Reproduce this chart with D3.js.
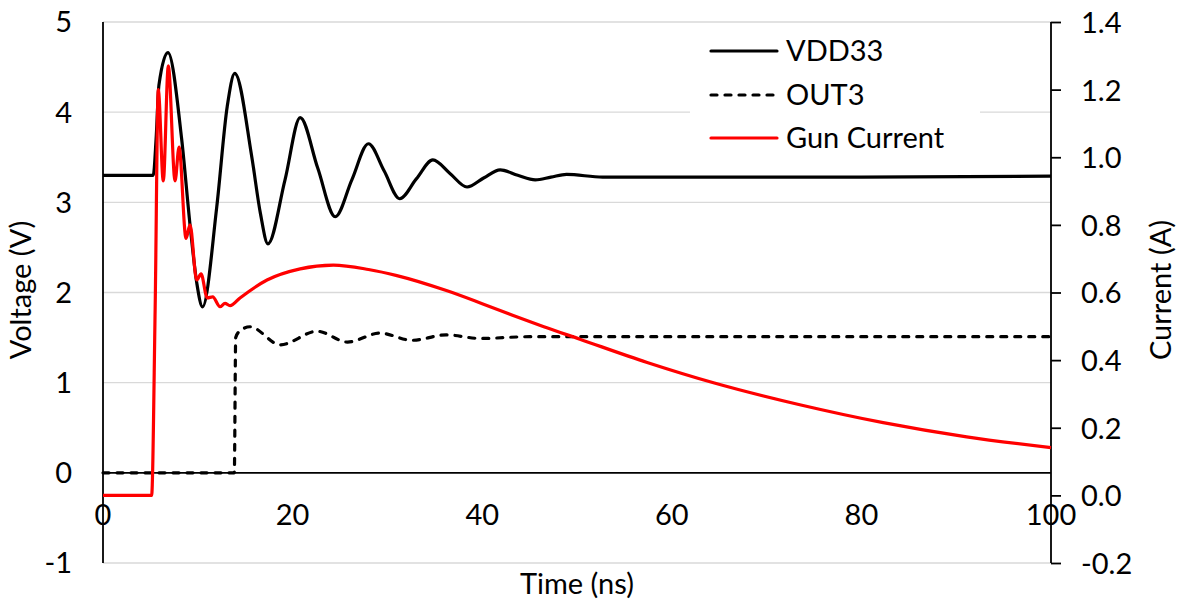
<!DOCTYPE html>
<html>
<head>
  <meta charset="utf-8">
  <script src="https://cdnjs.cloudflare.com/ajax/libs/d3/7.8.5/d3.min.js"></script>
  <title>VDD33 / OUT3 / Gun Current</title>
  <style>
    body { margin: 0; background: #fff; }
    text { font-family: Lato, "Open Sans", sans-serif; fill: #000; }
  </style>
</head>
<body>
<script>
// VDD33 (V) vs time (ns)
var vddT = [0, 5.3, 5.6, 5.9, 6.85, 8.3, 9.2, 9.9, 10.5, 12.0, 13.1, 13.9, 15.7, 16.6, 17.4, 19.2, 20.8,
            22.65, 24.5, 26.25, 28.0, 29.65, 31.3, 33.05, 34.8, 36.6, 38.4, 40.15, 41.9, 43.75, 45.6,
            47.25, 48.9, 52.7, 60, 80, 100];
var vddV = [3.30, 3.30, 3.70, 4.30, 4.66, 3.70, 2.73, 2.10, 1.84, 2.95, 4.06, 4.43, 3.50, 2.88, 2.54, 3.25, 3.94,
            3.38, 2.84, 3.25, 3.65, 3.35, 3.04, 3.26, 3.47, 3.32, 3.17, 3.27, 3.36, 3.30, 3.25,
            3.28, 3.31, 3.28, 3.28, 3.28, 3.29];

// OUT3 (V) vs time (ns)
var outT = [0, 13.85, 14.0, 14.4, 15.5, 18.7, 22.6, 25.8, 29.2, 32.6, 36.2, 39.8, 45, 100];
var outV = [0, 0, 1.50, 1.57, 1.62, 1.42, 1.57, 1.45, 1.55, 1.47, 1.53, 1.49, 1.51, 1.51];

// Gun Current (A) vs time (ns)
var gunT = [0, 5.13, 5.5, 5.83, 6.36, 6.89, 7.6, 8.02, 8.76, 9.18, 9.88, 10.34, 11.0, 11.57, 12.34, 12.87,
            13.4, 14.45, 17.3, 20.8, 24.3, 28.0, 31.0, 36.3, 40.0, 43.2, 46.5, 50.3, 57.4, 64.4, 73.5, 82.3, 91.1, 100];
var gunA = [0, 0, 0.55, 1.20, 0.93, 1.27, 0.93, 1.03, 0.76, 0.80, 0.637, 0.655, 0.584, 0.587, 0.558, 0.568,
            0.561, 0.584, 0.637, 0.670, 0.681, 0.668, 0.650, 0.605, 0.567, 0.533, 0.499, 0.462, 0.393, 0.333, 0.268, 0.215, 0.173, 0.141];

var xTicks = [0, 20, 40, 60, 80, 100];
var vTicks = [-1, 0, 1, 2, 3, 4, 5];
var aTicks = [-0.2, 0, 0.2, 0.4, 0.6, 0.8, 1.0, 1.2, 1.4];

var W = 1178, H = 604, FS = 29;
var x = d3.scaleLinear().domain([0, 100]).range([103, 1051]);
var yL = d3.scaleLinear().domain([-1, 5]).range([563, 22]);
var yR = d3.scaleLinear().domain([-0.2, 1.4]).range([563, 22]);

var svg = d3.select("body").append("svg").attr("width", W).attr("height", H);

// gridlines
svg.append("g").selectAll("line").data(vTicks.filter(function(d) { return d !== 0; })).enter().append("line")
  .attr("x1", x(0)).attr("x2", x(100))
  .attr("y1", function(d) { return yL(d); }).attr("y2", function(d) { return yL(d); })
  .attr("stroke", "#d9d9d9").attr("stroke-width", 1.3);

// left axis labels
svg.append("g").selectAll("text").data(vTicks).enter().append("text")
  .attr("x", 72).attr("y", function(d) { return yL(d); }).attr("dy", "0.36em")
  .attr("text-anchor", "end").attr("font-size", FS)
  .text(function(d) { return d; });

// right axis
var rAxis = svg.append("g").attr("transform", "translate(" + x(100) + ",0)")
  .call(d3.axisRight(yR).tickValues(aTicks).tickSize(10).tickPadding(20).tickFormat(d3.format(".1f")));
rAxis.select(".domain").attr("stroke", "#000").attr("stroke-width", 1.8).attr("d", "M0," + yR(1.4) + "V" + yR(-0.2));
rAxis.selectAll(".tick line").attr("stroke", "#000").attr("stroke-width", 1.8);
rAxis.selectAll(".tick text").attr("font-size", FS).attr("font-family", "Lato, sans-serif").attr("fill", "#000").attr("dy", "0.36em");
rAxis.selectAll(".tick text").text(function(d) { return d < 0 ? "-" + d3.format(".1f")(-d) : d3.format(".1f")(d); });

// left axis line and x axis line at 0 V
svg.append("line").attr("x1", x(0)).attr("x2", x(0)).attr("y1", yL(5)).attr("y2", yL(-1))
  .attr("stroke", "#000").attr("stroke-width", 1.8);
svg.append("line").attr("x1", x(0)).attr("x2", x(100)).attr("y1", yL(0)).attr("y2", yL(0))
  .attr("stroke", "#000").attr("stroke-width", 1.8);

// x tick labels
svg.append("g").selectAll("text").data(xTicks).enter().append("text")
  .attr("x", function(d) { return x(d); }).attr("y", 525)
  .attr("text-anchor", "middle").attr("font-size", FS)
  .text(function(d) { return d; });

// axis titles
svg.append("text").attr("transform", "translate(31,290) rotate(-90)")
  .attr("text-anchor", "middle").attr("font-size", FS).text("Voltage (V)");
svg.append("text").attr("transform", "translate(1171,290) rotate(-90)")
  .attr("text-anchor", "middle").attr("font-size", FS).text("Current (A)");
svg.append("text").attr("x", x(50)).attr("y", 594)
  .attr("text-anchor", "middle").attr("font-size", FS).text("Time (ns)");

// legend box (covers gridlines)
svg.append("rect").attr("x", 690).attr("y", 27).attr("width", 290).attr("height", 133).attr("fill", "#fff");

function pts(t, v) { return t.map(function(d, i) { return [d, v[i]]; }); }

var lineL = d3.line().x(function(d) { return x(d[0]); }).y(function(d) { return yL(d[1]); }).curve(d3.curveMonotoneX);
var lineR = d3.line().x(function(d) { return x(d[0]); }).y(function(d) { return yR(d[1]); }).curve(d3.curveMonotoneX);

svg.append("path").datum(pts(vddT, vddV)).attr("d", lineL)
  .attr("fill", "none").attr("stroke", "#000").attr("stroke-width", 3.2).attr("stroke-linejoin", "round");
svg.append("path").datum(pts(outT, outV)).attr("d", lineL)
  .attr("fill", "none").attr("stroke", "#000").attr("stroke-width", 3.2)
  .attr("stroke-dasharray", "6,8").attr("stroke-linecap", "round");
svg.append("path").datum(pts(gunT, gunA)).attr("d", lineR)
  .attr("fill", "none").attr("stroke", "#ff0000").attr("stroke-width", 3.2).attr("stroke-linejoin", "round");

// legend
var legend = [
  { name: "VDD33", color: "#000", dash: null, y: 51 },
  { name: "OUT3", color: "#000", dash: "6,8", y: 95 },
  { name: "Gun Current", color: "#ff0000", dash: null, y: 138 }
];
var lg = svg.append("g").selectAll("g").data(legend).enter().append("g");
lg.append("line").attr("x1", 711).attr("x2", 777)
  .attr("y1", function(d) { return d.y; }).attr("y2", function(d) { return d.y; })
  .attr("stroke", function(d) { return d.color; }).attr("stroke-width", 3.2)
  .attr("stroke-linecap", "round")
  .attr("stroke-dasharray", function(d) { return d.dash; });
lg.append("text").attr("x", 786).attr("y", function(d) { return d.y; }).attr("dy", "0.36em")
  .attr("font-size", FS).text(function(d) { return d.name; });
</script>
</body>
</html>
